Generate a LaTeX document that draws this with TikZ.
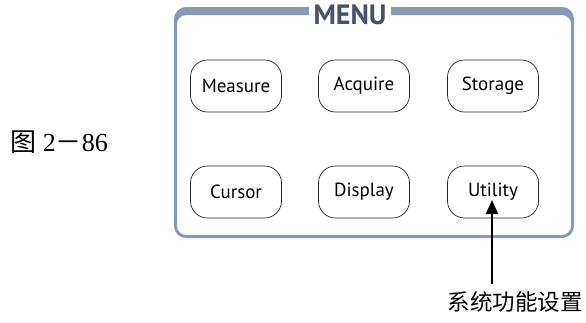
\documentclass[tikz,border=0pt]{standalone}
\usepackage{fontspec}
\setmainfont{Liberation Serif}
\setsansfont{PT Sans}
\newfontfamily\cjk{Noto Sans CJK SC}
\usetikzlibrary{arrows.meta,positioning}
\definecolor{MenuSlate}{RGB}{135,153,181}
\definecolor{MenuInk}{RGB}{72,82,98}
\definecolor{MenuLine}{RGB}{40,40,40}
\tikzset{
  menu/button/.style={
    draw=MenuLine,
    line width=0.7pt,
    rounded corners=17pt,
    fill=white,
    align=center,
    text=black,
    minimum width=91pt,
    minimum height=52pt,
    inner sep=0pt,
    font=\sffamily\fontsize{19pt}{22pt}\selectfont
  },
  menu/title/.style={font=\sffamily\bfseries\fontsize{28pt}{30pt}\selectfont, text=MenuInk, fill=white, inner xsep=5pt, inner ysep=0pt},
  menu/caption/.style={font=\fontsize{26pt}{28pt}\selectfont, text=black},
  menu/note/.style={font=\cjk\fontsize{22.5pt}{25pt}\selectfont, text=black},
  menu/arrow/.style={-{Triangle[length=14pt,width=12pt]}, line width=2pt, draw=black}
}
\begin{document}
\begin{tikzpicture}[x=1pt,y=-1pt]
  \useasboundingbox (0,0) rectangle (586,322);
  % panel frame
  \fill[MenuSlate,even odd rule,rounded corners=12pt]
    (174,7) rectangle (574,238)
    [rounded corners=9pt] (177,15) rectangle (571,235);
  \node[menu/title] (menutitle) at (350,15) {MENU};
  % buttons
  \node[menu/button] (measure) at (236,86) {Measure};
  \node[menu/button] (acquire) at (364,86) {Acquire};
  \node[menu/button] (storage) at (493,86) {Storage};
  \node[menu/button] (cursor)  at (236,192) {Cursor};
  \node[menu/button] (display) at (364,192) {Display};
  \node[menu/button] (utility) at (493,192) {Utility};
  % labels
  \node[menu/caption] (figlabel) at (59,142) {{\cjk 图} 2{\cjk －}86};
  \node[menu/note] (sysnote) at (515,302) {系统功能设置};
  \coordinate (utilitytip) at (492,200);
  \coordinate (noteend) at (492,284);
  \draw[menu/arrow] (noteend) -- (utilitytip);
\end{tikzpicture}
\end{document}
